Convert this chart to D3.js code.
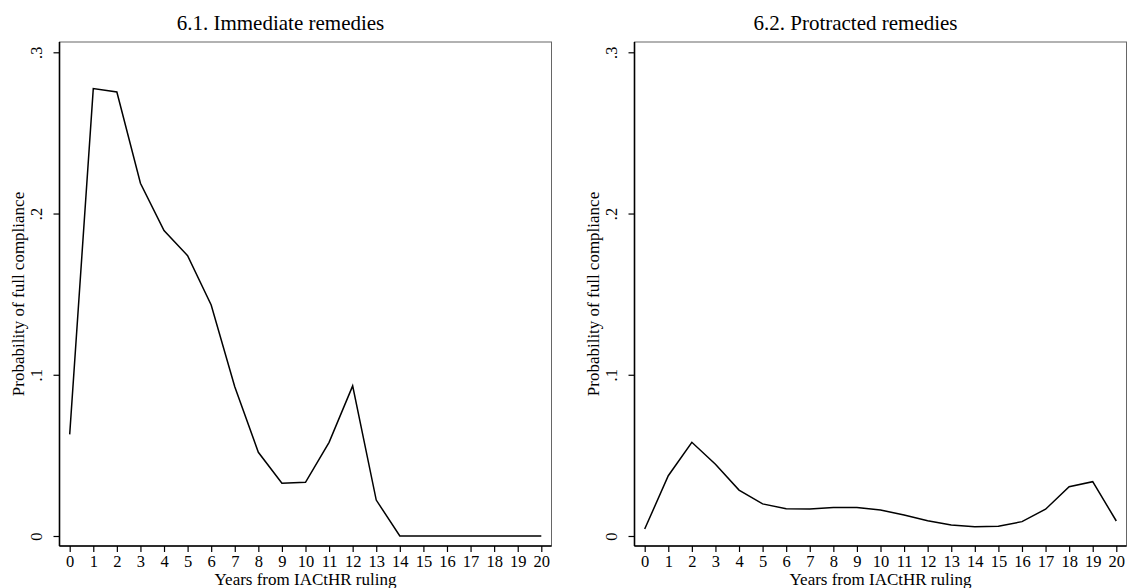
<!DOCTYPE html>
<html>
<head>
<meta charset="utf-8">
<script src="https://cdn.jsdelivr.net/npm/d3@7"></script>
<style>
  body { margin: 0; background: #fff; }
  svg { font-family: "Liberation Serif", "Times New Roman", serif; }
</style>
</head>
<body>
<div id="chart"></div>
<script>
// years from ruling
var years = d3.range(0, 21);
var yTicks = [0, 0.1, 0.2, 0.3];

// 6.1 immediate remedies
var immediate = [0.063, 0.2775, 0.2754, 0.2188, 0.1894, 0.1739, 0.1433, 0.0926, 0.0519, 0.0327,
  0.0333, 0.0581, 0.0931, 0.0223, 0, 0, 0, 0, 0, 0, 0];
// 6.2 protracted remedies
var protracted = [0.0043, 0.0374, 0.0581, 0.0445, 0.0285, 0.0199, 0.0169, 0.0168, 0.0176, 0.0176,
  0.0161, 0.013, 0.0095, 0.0068, 0.0058, 0.006, 0.0089, 0.0166, 0.0306, 0.0337, 0.0093];

var titles = ["6.1. Immediate remedies", "6.2. Protracted remedies"];
var series = [immediate, protracted];
var panelX = [59.5, 634.5];

var W = 1127, H = 588;
var pw = 492, ph = 504, plotTop = 42;

var svg = d3.select("#chart").append("svg")
  .attr("width", W).attr("height", H);

var x = d3.scaleLinear().domain([0, 20]).range([10.2, 481.8]);
var y = d3.scaleLinear().domain([0, 0.3]).range([494, 10.3]);

function fmt(d) {
  return d === 0 ? "0" : d3.format(".1f")(d).replace(/^0/, "");
}

series.forEach(function(vals, k) {
  var g = svg.append("g").attr("transform", "translate(" + panelX[k] + "," + plotTop + ")");

  // frame
  g.append("rect")
    .attr("x", 0).attr("y", 0).attr("width", pw).attr("height", ph)
    .attr("fill", "none").attr("stroke", "#666").attr("stroke-width", 1);

  // x axis
  var xa = g.append("g").attr("transform", "translate(0," + ph + ")")
    .call(d3.axisBottom(x).tickValues(years).tickSize(6).tickSizeOuter(0));
  xa.select(".domain").remove();
  xa.selectAll("line").attr("stroke", "#000").attr("stroke-width", 1.2);
  xa.selectAll("text").attr("y", 21).attr("dy", 0)
    .style("font-size", "16.5px").style("font-family", "Liberation Serif").attr("fill", "#000");

  // y axis
  var ya = g.append("g")
    .call(d3.axisLeft(y).tickValues(yTicks).tickFormat(fmt).tickSize(6).tickSizeOuter(0));
  ya.select(".domain").remove();
  ya.selectAll("line").attr("stroke", "#000").attr("stroke-width", 1.2);
  ya.selectAll("text")
    .attr("x", 0).attr("y", 0).attr("dy", 0)
    .attr("transform", "translate(-17.5,0) rotate(-90)")
    .attr("text-anchor", "middle")
    .style("font-size", "16.5px").style("font-family", "Liberation Serif").attr("fill", "#000");

  // axis lines
  g.append("line").attr("x1", 0).attr("x2", 0).attr("y1", 0).attr("y2", ph)
    .attr("stroke", "#000").attr("stroke-width", 1.6);
  g.append("line").attr("x1", 0).attr("x2", pw).attr("y1", ph).attr("y2", ph)
    .attr("stroke", "#000").attr("stroke-width", 1.6);

  // line
  var line = d3.line()
    .x(function(d, i) { return x(years[i]); })
    .y(function(d) { return y(d); });
  g.append("path").datum(vals)
    .attr("d", line)
    .attr("fill", "none").attr("stroke", "#000").attr("stroke-width", 1.5)
    .attr("stroke-linejoin", "miter");

  // titles (centred over the whole graph region, not the plot)
  g.append("text")
    .attr("x", 221).attr("y", 30 - plotTop)
    .attr("text-anchor", "middle")
    .style("font-size", "21px")
    .text(titles[k]);

  g.append("text")
    .attr("x", pw / 2).attr("y", 585 - plotTop)
    .attr("text-anchor", "middle")
    .style("font-size", "17px")
    .text("Years from IACtHR ruling");

  g.append("text")
    .attr("transform", "translate(-35.5," + (ph / 2) + ") rotate(-90)")
    .attr("text-anchor", "middle")
    .style("font-size", "17px")
    .text("Probability of full compliance");
});
</script>
</body>
</html>
